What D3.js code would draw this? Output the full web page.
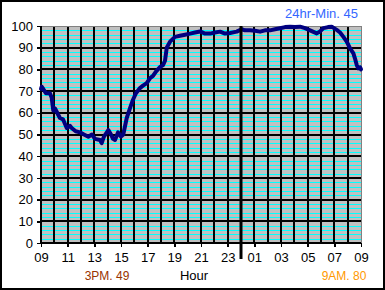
<!DOCTYPE html>
<html>
<head>
<meta charset="utf-8">
<script src="https://cdn.jsdelivr.net/npm/d3@7"></script>
<style>
  body { margin: 0; background: #fff; }
  svg { display: block; }
  text { font-family: Arial, "Liberation Sans", sans-serif; }
</style>
</head>
<body>
<svg id="chart" width="385" height="290"></svg>
<script>
// hours after 09:00 and the reading at that time
const hours = [0, 0.05, 0.17, 0.37, 0.67, 0.8, 0.92, 1.05, 1.3, 1.42, 1.65, 1.93, 2.17, 2.3, 2.6, 2.92,
  3.22, 3.55, 3.82, 4.05, 4.42, 4.55, 4.72, 5.05, 5.25, 5.4, 5.55, 5.78, 6.0, 6.17, 6.43, 6.67,
  6.9, 7.12, 7.42, 7.65, 7.93, 8.18, 8.4, 8.62, 8.92, 9.15, 9.3, 9.43, 9.68, 10.05, 10.42, 10.8,
  11.18, 11.55, 11.93, 12.3, 12.68, 13.05, 13.43, 13.8, 14.18, 14.68, 15.05, 15.3, 15.68, 16.05,
  16.43, 16.8, 17.18, 17.55, 17.93, 18.3, 18.68, 19.05, 19.43, 19.8, 20.18, 20.68, 20.93, 21.18,
  21.53, 21.8, 22.18, 22.43, 22.68, 22.93, 23.18, 23.43, 23.55, 23.68, 23.8, 23.93, 24];
const values = [71, 72, 71, 69, 69, 67, 61, 62, 59, 57.6, 57, 53, 54, 53, 51.5, 51,
  50, 49, 50, 48, 47.5, 46, 49, 52, 50, 48, 47.5, 51, 49, 50, 57.6, 62,
  66, 69, 71.4, 72.5, 73.7, 76, 77, 79, 81, 82, 84, 90, 92.8, 95, 95.5, 96,
  96.5, 97, 97.5, 96.5, 96.5, 97, 97.4, 96.5, 96.8, 97.4, 98.5, 98, 98, 97.8,
  97.4, 98, 98, 98.5, 99, 99.5, 99.7, 99.5, 99.7, 99, 98, 96.6, 97.5, 99,
  99.5, 99.7, 98.2, 97, 95, 92.8, 89.7, 87.4, 85, 82, 80.5, 81, 80];

const yTicks = [0, 10, 20, 30, 40, 50, 60, 70, 80, 90, 100];
const xTickHours = [0, 2, 4, 6, 8, 10, 12, 14, 16, 18, 20, 22, 24];
const xTickLabels = ['09', '11', '13', '15', '17', '19', '21', '23', '01', '03', '05', '07', '09'];
const midnight = 15;

const titleText = '24hr-Min. 45';
const lowText = '3PM. 49';
const axisTitle = 'Hour';
const endText = '9AM. 80';

const svg = d3.select('#chart');
const W = 385, H = 290;
const plotL = 41, plotR = 361, plotT = 26, plotB = 243;

const x = d3.scaleLinear().domain([0, 24]).range([plotL, plotR]);
const y = d3.scaleLinear().domain([0, 100]).range([plotB, plotT]);

// outer frame
svg.append('rect').attr('x', 1).attr('y', 1).attr('width', W - 2).attr('height', H - 2)
  .attr('fill', '#fff').attr('stroke', '#000').attr('stroke-width', 2);

// plot background
svg.append('rect').attr('x', plotL).attr('y', plotT).attr('width', plotR - plotL).attr('height', plotB - plotT)
  .attr('fill', '#c0c0c0');

const grid = svg.append('g').attr('shape-rendering', 'crispEdges');

// cyan minor lines every 2 units
d3.range(2, 101, 2).filter(v => v % 10 !== 0 || v === 100).forEach(v => {
  grid.append('line')
    .attr('x1', plotL).attr('x2', plotR)
    .attr('y1', Math.round(y(v)) + 0.5).attr('y2', Math.round(y(v)) + 0.5)
    .attr('stroke', '#00ffff').attr('stroke-width', 1);
});

// black major lines every 10
yTicks.filter(v => v > 0 && v < 100).forEach(v => {
  grid.append('line')
    .attr('x1', plotL).attr('x2', plotR).attr('y1', Math.round(y(v))).attr('y2', Math.round(y(v)))
    .attr('stroke', '#000').attr('stroke-width', 2);
});

// vertical hour lines
d3.range(1, 24).forEach(h => {
  grid.append('line')
    .attr('x1', Math.round(x(h))).attr('x2', Math.round(x(h))).attr('y1', plotT).attr('y2', plotB)
    .attr('stroke', '#000').attr('stroke-width', 2);
});

// plot border
grid.append('rect').attr('x', plotL).attr('y', plotT).attr('width', plotR - plotL).attr('height', plotB - plotT)
  .attr('fill', 'none').attr('stroke', '#808080').attr('stroke-width', 1);

// axes
const yAxis = svg.append('g').attr('transform', `translate(${plotL},0)`)
  .call(d3.axisLeft(y).tickValues(yTicks).tickSize(4).tickPadding(4));
const xAxis = svg.append('g').attr('transform', `translate(0,${plotB})`)
  .call(d3.axisBottom(x).tickValues(xTickHours).tickSize(4).tickPadding(6)
    .tickFormat((d, i) => xTickLabels[i]));

[yAxis, xAxis].forEach(a => {
  a.selectAll('path').attr('stroke', '#000').attr('stroke-width', 2).attr('shape-rendering', 'crispEdges');
  a.selectAll('line').attr('stroke', '#000').attr('stroke-width', 1.5).attr('shape-rendering', 'crispEdges');
  a.selectAll('text').attr('font-size', 13).attr('fill', '#000')
    .attr('font-family', 'Arial, "Liberation Sans", sans-serif');
});
yAxis.select('path').attr('d', `M0,${plotT}V${plotB}`);
xAxis.select('path').attr('d', `M${plotL},0H${plotR}`);

// the reading
const pts = hours.map((h, i) => [h, values[i]]);
svg.append('path')
  .datum(pts)
  .attr('d', d3.line().x(d => x(d[0])).y(d => y(d[1])))
  .attr('fill', 'none').attr('stroke', '#000080').attr('stroke-width', 4)
  .attr('stroke-linejoin', 'round').attr('stroke-linecap', 'round');

// midnight marker, drawn over the curve
svg.append('line')
  .attr('x1', x(midnight)).attr('x2', x(midnight)).attr('y1', plotT).attr('y2', 259)
  .attr('stroke', '#000').attr('stroke-width', 3);

// labels
svg.append('text').attr('x', 358).attr('y', 18).attr('text-anchor', 'end')
  .attr('font-size', 13).attr('fill', '#3366ff').text(titleText);
svg.append('text').attr('x', 107).attr('y', 280).attr('text-anchor', 'middle')
  .attr('font-size', 12).attr('fill', '#993300').text(lowText);
svg.append('text').attr('x', 194).attr('y', 280).attr('text-anchor', 'middle')
  .attr('font-size', 13).attr('fill', '#000').text(axisTitle);
svg.append('text').attr('x', 344).attr('y', 280).attr('text-anchor', 'middle')
  .attr('font-size', 12).attr('fill', '#ff9900').text(endText);
</script>
</body>
</html>
